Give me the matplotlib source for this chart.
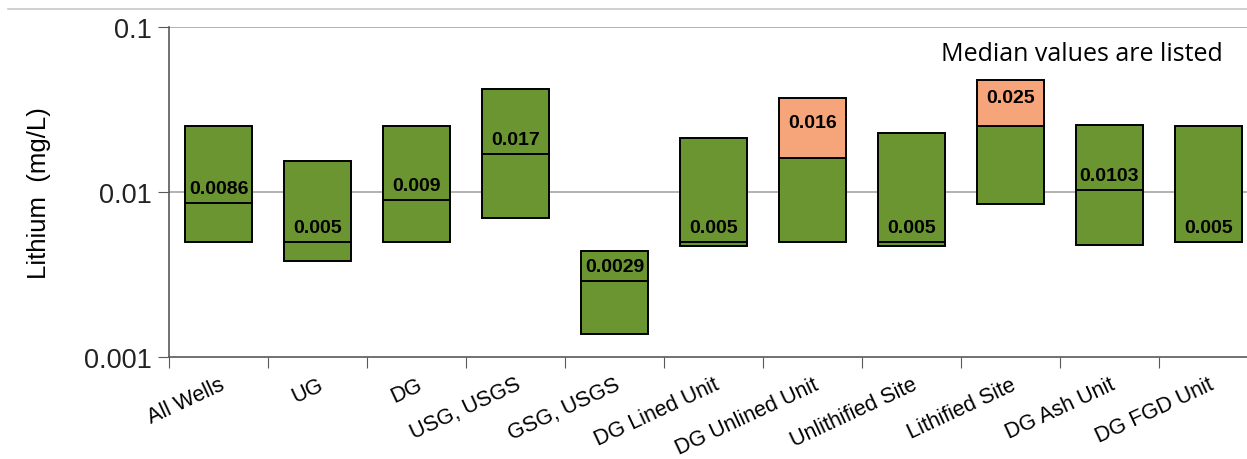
import matplotlib.pyplot as plt
from matplotlib.lines import Line2D
import numpy as np

# data
categories = ['All Wells', 'UG', 'DG', 'USG, USGS', 'GSG, USGS', 'DG Lined Unit',
              'DG Unlined Unit', 'Unlithified Site', 'Lithified Site', 'DG Ash Unit',
              'DG FGD Unit']
low = [0.005, 0.0038, 0.005, 0.0070, 0.00138, 0.0047, 0.005, 0.0047, 0.0085, 0.0048, 0.005]
high = [0.025, 0.0154, 0.025, 0.042, 0.0044, 0.0212, 0.037, 0.0228, 0.048, 0.0256, 0.025]
median = [0.0086, 0.005, 0.009, 0.017, 0.0029, 0.005, 0.016, 0.005, 0.025, 0.0103, 0.005]
labels = ['0.0086', '0.005', '0.009', '0.017', '0.0029', '0.005', '0.016', '0.005',
          '0.025', '0.0103', '0.005']
flagged = [False, False, False, False, False, False, True, False, True, False, False]

green = '#6B9530'
orange = '#F6A57B'

plt.rcParams['font.family'] = ['Liberation Sans', 'DejaVu Sans']

fig = plt.figure(figsize=(12.47, 4.6), dpi=100)
ax = fig.add_axes([169 / 1247, 1 - 358 / 460, 1089 / 1247, 330 / 460])
ax.set_yscale('log')
ax.set_ylim(0.001, 0.1)
ax.set_xlim(0, len(categories))

x = np.arange(len(categories)) + 0.5
w = 0.67
for i in range(len(categories)):
    if flagged[i]:
        ax.bar(x[i], median[i] - low[i], bottom=low[i], width=w, color=green,
               edgecolor='black', linewidth=1.4, zorder=3)
        ax.bar(x[i], high[i] - median[i], bottom=median[i], width=w, color=orange,
               edgecolor='black', linewidth=1.4, zorder=3)
        ymid = np.sqrt(median[i] * high[i])
        ax.text(x[i], ymid * 1.08, labels[i], ha='center', va='center',
                fontsize=14, fontweight='bold', zorder=5)
    else:
        ax.bar(x[i], high[i] - low[i], bottom=low[i], width=w, color=green,
               edgecolor='black', linewidth=1.4, zorder=3)
        ax.plot([x[i] - w / 2, x[i] + w / 2], [median[i], median[i]], color='black',
                linewidth=1.4, zorder=4)
        ax.annotate(labels[i], (x[i], median[i]), xytext=(0, 4), textcoords='offset points',
                    ha='center', va='bottom', fontsize=14, fontweight='bold', zorder=5)

# gridlines
for g in [0.01, 0.1]:
    ax.axhline(g, color='#A6A6A6', linewidth=1.2, zorder=1)

for s in ['top', 'right']:
    ax.spines[s].set_visible(False)
ax.spines['left'].set_color('#595959')
ax.spines['bottom'].set_color('#595959')
ax.spines['left'].set_linewidth(1.2)
ax.spines['bottom'].set_linewidth(1.2)

ax.set_yticks([0.001, 0.01, 0.1])
ax.set_yticklabels(['0.001', '0.01', '0.1'])
ax.yaxis.set_minor_locator(plt.NullLocator())
ax.tick_params(axis='y', which='major', labelsize=19.5, length=8, color='#595959',
               labelcolor='#222222', pad=4)

ax.set_xticks(np.arange(len(categories) + 1))
ax.set_xticklabels([])
ax.tick_params(axis='x', which='major', length=8, color='#595959', direction='out')
ax.set_xticks(x, minor=True)
ax.set_xticklabels(categories, minor=True, rotation=25, ha='right', rotation_mode='anchor',
                   fontsize=15.5)
ax.tick_params(axis='x', which='minor', length=0, pad=12)

ax.set_ylabel('Lithium  (mg/L)', fontsize=18.5, labelpad=24)

ax.text(0.968, 0.92, 'Median values are listed', transform=ax.transAxes,
        fontsize=18, family=['Open Sans', 'DejaVu Sans'], ha='right', va='center')

fig.add_artist(Line2D([8 / 1247, 1], [1 - 10 / 460, 1 - 10 / 460], color='#C8C8C8',
                      linewidth=1.2))

fig.savefig('out.png', dpi=100)
